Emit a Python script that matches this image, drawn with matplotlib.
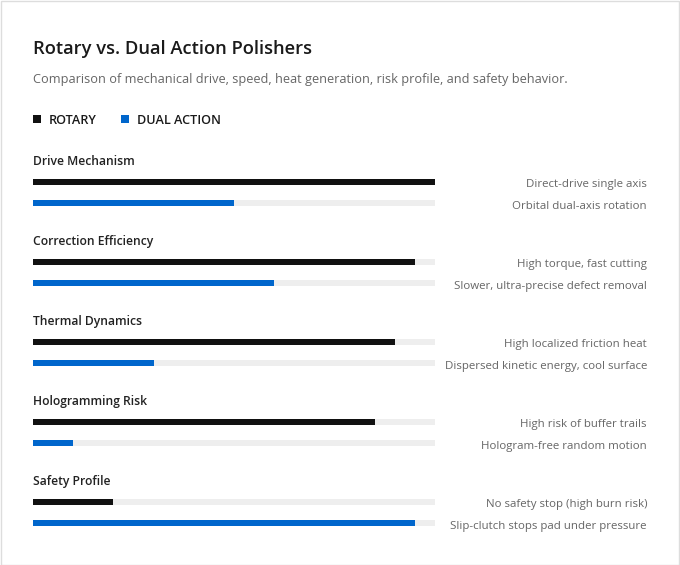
import matplotlib
matplotlib.use("Agg")
import matplotlib.pyplot as plt
from matplotlib.patches import Rectangle

categories = ["Drive Mechanism", "Correction Efficiency", "Thermal Dynamics",
              "Hologramming Risk", "Safety Profile"]
rotary = [100, 95, 90, 85, 20]
dual_action = [50, 60, 30, 10, 95]
rotary_notes = ["Direct-drive single axis", "High torque, fast cutting",
                "High localized friction heat", "High risk of buffer trails",
                "No safety stop (high burn risk)"]
dual_notes = ["Orbital dual-axis rotation", "Slower, ultra-precise defect removal",
              "Dispersed kinetic energy, cool surface", "Hologram-free random motion",
              "Slip-clutch stops pad under pressure"]
series_names = ["ROTARY", "DUAL ACTION"]
colors = ["#111111", "#0066cc"]

W, H = 680, 565
plt.rcParams['font.family'] = ['Open Sans', 'DejaVu Sans']
fig = plt.figure(figsize=(W / 100, H / 100), dpi=100)
fig.patch.set_facecolor("white")

def fx(x):
    return x / W

def fy(y):
    return 1 - y / H

def pt(px):
    return px * 0.72

# border
fig.add_artist(Rectangle((0.5 / W, 0.5 / H), 1 - 1.5 / W, 1 - 1.5 / H, transform=fig.transFigure,
                         fill=False, edgecolor="#dddddd", linewidth=1))

fig.text(fx(33), fy(49.5), "Rotary vs. Dual Action Polishers", fontsize=pt(18.4), fontweight="semibold",
         color="#1a1a1a", va="center", ha="left")
fig.text(fx(33), fy(79.5), "Comparison of mechanical drive, speed, heat generation, risk profile, and safety behavior.",
         fontsize=pt(12.75), color="#666666", va="center", ha="left")

# legend
leg_x = [33, 121]
for i, name in enumerate(series_names):
    fig.add_artist(Rectangle((fx(leg_x[i]), fy(123)), 8 / W, 8 / H, transform=fig.transFigure,
                             facecolor=colors[i], edgecolor="none"))
    fig.text(fx(leg_x[i] + 16), fy(120.5), name, fontsize=pt(12.6), fontweight="semibold",
             color="#1a1a1a", va="center", ha="left")

# bars axes in pixel y coordinates
top, bottom = 140, 540
ax = fig.add_axes([fx(33), fy(bottom), 402 / W, (bottom - top) / H])
ax.set_xlim(0, 100)
ax.set_ylim(bottom, top)
ax.axis("off")

group_gap = 80
first = 182
row_gap = 21
bar_h = 6
note_offsets = [2, 3]
for i, cat in enumerate(categories):
    base = first + group_gap * i
    fig.text(fx(33), fy(base - 20.5), cat, fontsize=pt(12.1), fontweight="semibold",
             color="#222222", va="center", ha="left")
    for j, (vals, notes) in enumerate([(rotary, rotary_notes), (dual_action, dual_notes)]):
        y = base + row_gap * j
        ax.barh(y, 100, height=bar_h, color="#eeeeee", edgecolor="none")
        ax.barh(y, vals[i], height=bar_h, color=colors[j], edgecolor="none")
        fig.text(fx(647), fy(y + note_offsets[j]), notes[i], fontsize=pt(11.45), color="#666666",
                 va="center", ha="right")

fig.savefig("out.png", dpi=100, facecolor="white")
